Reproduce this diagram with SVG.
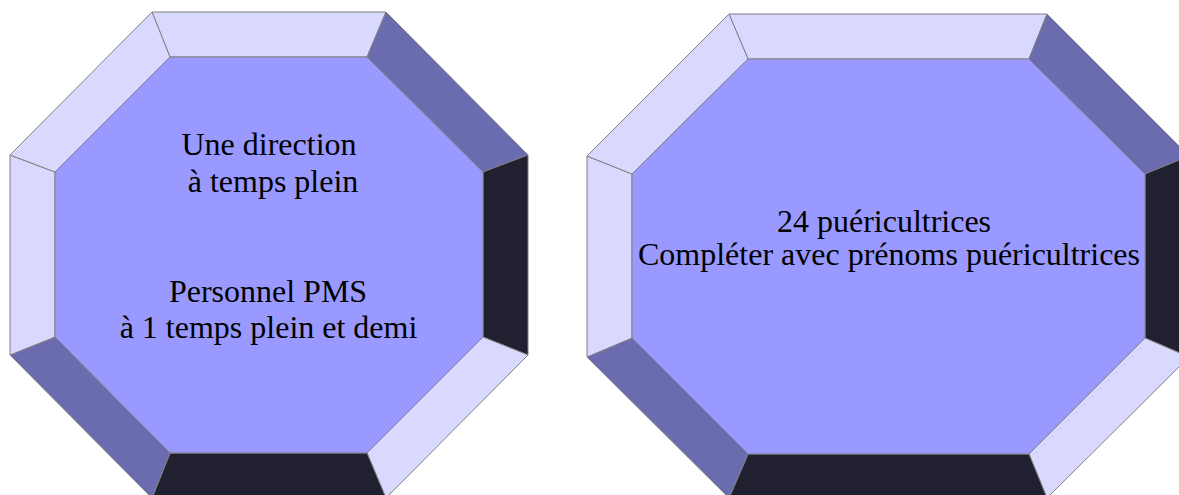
<svg xmlns="http://www.w3.org/2000/svg" width="1179" height="495" viewBox="0 0 1179 495">
<style>
.f{stroke:#808080;stroke-width:1;stroke-linejoin:round}
.l{fill:#D9D9FF}
.m{fill:#6B6BAF}
.d{fill:#202030}
.c{fill:#9999FF}
text{font-family:"Liberation Serif","Times New Roman",serif;font-size:32px;fill:#000;text-anchor:middle}
</style>
<rect width="1179" height="495" fill="#fff"/>
<g id="node-left">
<polygon class="f l" points="152,12 386,12 367,57 170,57"/>
<polygon class="f m" points="386,12 528,155 483,172 367,57"/>
<polygon class="f d" points="528,155 528,355 483,337 483,172"/>
<polygon class="f l" points="528,355 386,498 367,453 483,337"/>
<polygon class="f d" points="386,498 152,498 170,453 367,453"/>
<polygon class="f m" points="152,498 10,355 55,337 170,453"/>
<polygon class="f l" points="10,355 10,155 55,172 55,337"/>
<polygon class="f l" points="10,155 152,12 170,57 55,172"/>
<polygon class="f c" points="170,57 367,57 483,172 483,337 367,453 170,453 55,337 55,172"/>
<text x="269" y="155">Une direction</text>
<text x="273" y="192">à temps plein</text>
<text x="268" y="301.5">Personnel PMS</text>
<text x="268.5" y="338">à 1 temps plein et demi</text>
</g>
<g id="node-right">
<polygon class="f l" points="729,14 1047,14 1029,59 748,59"/>
<polygon class="f m" points="1047,14 1189,156 1145,174 1029,59"/>
<polygon class="f d" points="1189,156 1189,357 1145,338 1145,174"/>
<polygon class="f l" points="1189,357 1047,498 1029,454 1145,338"/>
<polygon class="f d" points="1047,498 729,498 748,454 1029,454"/>
<polygon class="f m" points="729,498 587,357 632,338 748,454"/>
<polygon class="f l" points="587,357 587,156 632,174 632,338"/>
<polygon class="f l" points="587,156 729,14 748,59 632,174"/>
<polygon class="f c" points="748,59 1029,59 1145,174 1145,338 1029,454 748,454 632,338 632,174"/>
<text x="884" y="232">24 puéricultrices</text>
<text x="889" y="265">Compléter avec prénoms puéricultrices</text>
</g>
<g id="connectors"/>
</svg>
